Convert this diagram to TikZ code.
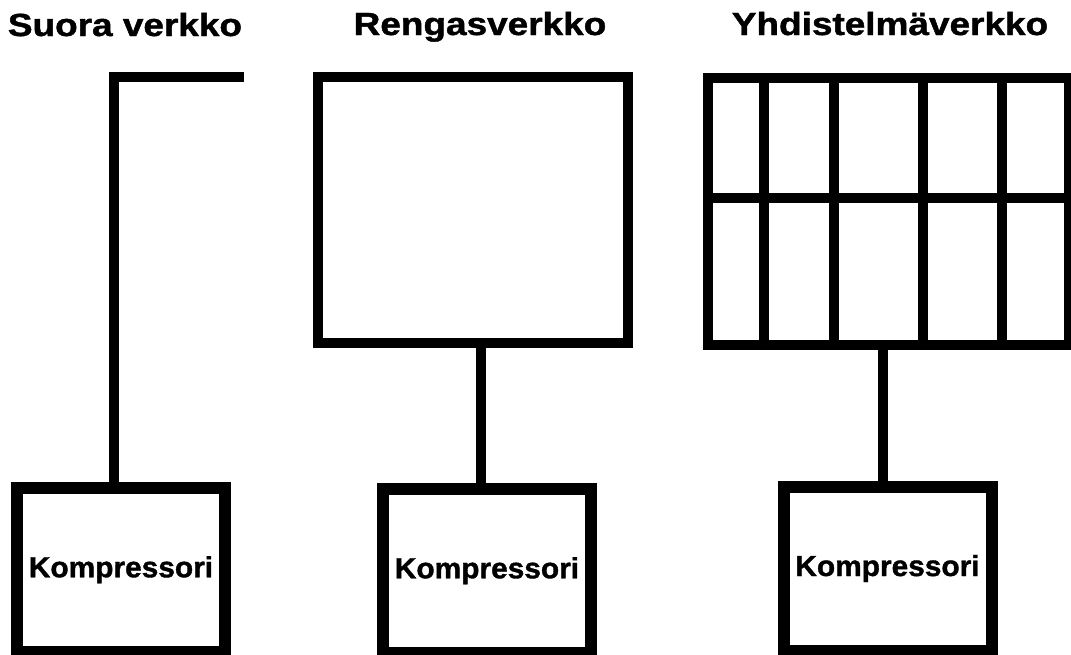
\documentclass[tikz,border=0pt]{standalone}
\usepackage{fontspec}
\setmainfont[BoldFeatures={FakeBold=1.2}]{Liberation Sans}
\usetikzlibrary{positioning}

\newcommand{\levea}[1]{\scalebox{1.155}[1]{#1}}

\tikzset{
  otsikko/.style={font=\fontsize{16}{16}\selectfont\bfseries, anchor=base, inner sep=0pt},
  kompressori/.style={draw, line width=6pt, minimum width=104pt, minimum height=82pt,
    inner sep=0pt, font=\fontsize{14.5}{14.5}\selectfont\bfseries},
  verkko/.style={line width=5pt},
}

\begin{document}
\begin{tikzpicture}[x=0.5pt,y=-0.5pt]
\useasboundingbox (0,0) rectangle (1071,654);

% otsikot
\node[otsikko] (suora) at (125,36) {\levea{Suora verkko}};
\node[otsikko] (rengasots) at (480,35) {\levea{Rengasverkko}};
\node[otsikko] (yhdots) at (890,35) {\levea{Yhdistelmäverkko}};

% kompressorit
\node[kompressori] (komp1) at (121,569.75) {\scalebox{1.03}[1]{Kompressori}};
\node[kompressori] (komp2) at (487,570.75) {\scalebox{1.03}[1]{Kompressori}};
\node[kompressori] (komp3) at (887.5,568.5) {\scalebox{1.03}[1]{Kompressori}};

% suora verkko
\coordinate (suoraA) at (244,77);
\coordinate (suoraB) at (113.5,77);
\draw[verkko] (suoraA) -- (suoraB) -- (suoraB |- komp1.north);

% rengasverkko
\node[draw, verkko, minimum width=155pt, minimum height=133pt] (rengas) at (473,210) {};
\draw[verkko] ([xshift=3.75pt]rengas.south) -- ([xshift=3.75pt]rengas.south |- komp2.north);

% yhdistelmaverkko
\node[draw, verkko, minimum width=180.5pt, minimum height=133.5pt] (yhd) at (888.5,211.5) {};
\foreach \gx in {764,834,923,1002}
  \draw[verkko] (\gx,78) -- (\gx,345);
\draw[verkko] (yhd.west |- 0,197.5) -- (yhd.east |- 0,197.5);
\draw[verkko] ([xshift=-3pt]yhd.south) -- ([xshift=-3pt]yhd.south |- komp3.north);
\end{tikzpicture}
\end{document}
